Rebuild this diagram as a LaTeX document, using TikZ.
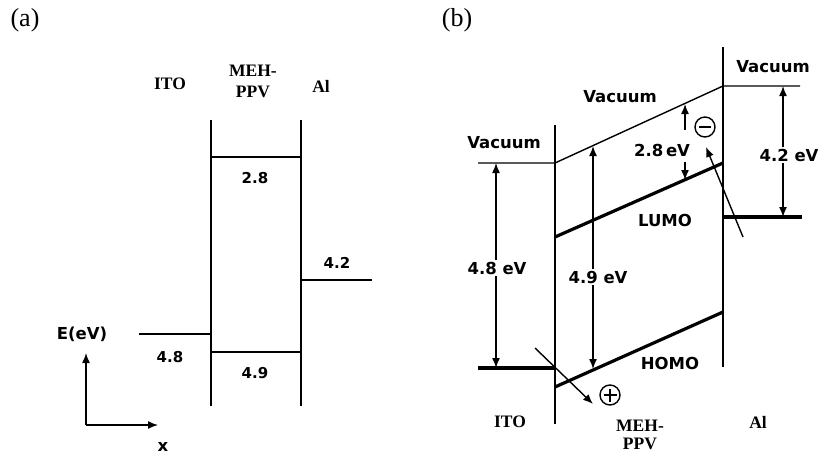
\documentclass[tikz,border=0pt]{standalone}
\usepackage{fontspec}
\setmainfont{Liberation Serif}
\setsansfont{DejaVu Sans}
\usetikzlibrary{arrows.meta, positioning, calc}
\tikzset{
  wall/.style={draw=black, line width=1.5pt},
  lvl/.style={draw=black, line width=1.4pt},
  lvlbold/.style={draw=black, line width=3.2pt},
  dimarr/.style={{Latex[length=10pt,width=8pt]}-{Latex[length=10pt,width=8pt]}, line width=1.4pt},
  onearr/.style={-{Latex[length=10pt,width=8pt]}, line width=1.4pt},
  val/.style={font=\sffamily\bfseries\fontsize{15}{15}\selectfont, inner sep=1pt},
  valb/.style={font=\sffamily\bfseries\fontsize{16.5}{16.5}\selectfont, inner sep=1pt},
  dimlbl/.style={valb, fill=white, inner sep=2pt},
  mat/.style={font=\bfseries\fontsize{17.5}{17.5}\selectfont, inner sep=0pt},
  tag/.style={font=\fontsize{26}{26}\selectfont, inner sep=0pt},
  chg/.style={circle, draw=black, line width=1.4pt, minimum size=20pt, inner sep=0pt},
}
\begin{document}
\begin{tikzpicture}[x=1pt, y=-1pt]
  \useasboundingbox (0,0) rectangle (819,455);
  % (a) flat bands
  \node[tag] (taga) at (25,20) {(a)};
  \node[mat] (itoa) at (170,84) {ITO};
  \node[mat] (meha) at (253,71) {MEH-};
  \node[mat] (ppva) at (253,92) {PPV};
  \node[mat] (ala) at (321,86) {Al};
  \coordinate (aLt) at (211,120); \coordinate (aLb) at (211,406);
  \coordinate (aRt) at (301,120); \coordinate (aRb) at (301,406);
  \draw[wall] (aLt) -- (aLb);
  \draw[wall] (aRt) -- (aRb);
  \draw[lvl] (211,157) -- (301,157);
  \draw[lvl] (211,352) -- (301,352);
  \draw[lvl] (139,334) -- (211,334);
  \draw[lvl] (301,280) -- (372,280);
  \node[val] (lumoa) at (255,178) {2.8};
  \node[val] (homoa) at (255,373) {4.9};
  \node[val] (wfito) at (170,357) {4.8};
  \node[val] (wfal) at (337,263) {4.2};
  \node[valb] (eaxis) at (82,334) {E(eV)};
  \node[valb] (xaxis) at (163,447) {x};
  \coordinate (orig) at (86,425);
  \coordinate (etip) at (86,353);
  \coordinate (xtip) at (158,425);
  \draw[onearr] (orig) -- (etip);
  \draw[onearr] (orig) -- (xtip);

  % (b) under bias
  \node[tag] (tagb) at (457,20) {(b)};
  \coordinate (bLt) at (555,125); \coordinate (bLb) at (555,424);
  \coordinate (bRt) at (723,47); \coordinate (bRb) at (723,367);
  \draw[wall] (bLt) -- (bLb);
  \draw[wall] (bRt) -- (bRb);
  \coordinate (vac1) at (478,163); \coordinate (vac2) at (555,163);
  \coordinate (vac3) at (723,86); \coordinate (vac4) at (800,86);
  \draw[lvl] (vac1) -- (vac2) -- (vac3) -- (vac4);
  \draw[lvlbold] (555,237) -- (723,163);
  \draw[lvlbold] (555,387) -- (723,312);
  \draw[lvlbold] (478,368) -- (555,368);
  \draw[lvlbold] (723,217) -- (802,217);
  \node[valb] (vacito) at (504,143) {Vacuum};
  \node[valb] (vacmeh) at (620,97) {Vacuum};
  \node[valb] (vacal) at (773,67) {Vacuum};
  \node[valb] (lumob) at (665,220) {LUMO};
  \node[valb] (homob) at (670,363) {HOMO};
  % work functions and levels
  \coordinate (d48t) at (496,163); \coordinate (d48b) at (496,368);
  \draw[dimarr] (d48t) -- (d48b);
  \node[dimlbl] (l48) at (497,268) {4.8 eV};
  \coordinate (d49t) at (593,146); \coordinate (d49b) at (593,369);
  \draw[dimarr] (d49t) -- (d49b);
  \node[dimlbl] (l49) at (598,277) {4.9 eV};
  \coordinate (d42t) at (783,86); \coordinate (d42b) at (783,217);
  \draw[dimarr] (d42t) -- (d42b);
  \node[dimlbl] (l42) at (789,155) {4.2 eV};
  \coordinate (d28a) at (685,130); \coordinate (d28t) at (685,104);
  \coordinate (d28b) at (685,162); \coordinate (d28c) at (685,180);
  \draw[onearr] (d28a) -- (d28t);
  \draw[onearr] (d28b) -- (d28c);
  \node[valb] (l28) at (662,150) {2.8\,eV};
  % charges
  \node[chg] (elec) at (705,127) {};
  \draw[line width=2.8pt] ([xshift=-6pt]elec.center) -- ([xshift=6pt]elec.center);
  \node[chg] (hole) at (610,395) {};
  \draw[line width=2.4pt] ([xshift=-6.5pt]hole.center) -- ([xshift=6.5pt]hole.center);
  \draw[line width=2.4pt] ([yshift=-6.5pt]hole.center) -- ([yshift=6.5pt]hole.center);
  \coordinate (etail) at (743,237); \coordinate (ehead) at (706,147);
  \draw[onearr] (etail) -- (ehead);
  \coordinate (htail) at (535,348); \coordinate (hhead) at (593,404);
  \draw[onearr] (htail) -- (hhead);
  % materials
  \node[mat] (itob) at (510,422) {ITO};
  \node[mat] (mehb) at (640,426) {MEH-};
  \node[mat] (ppvb) at (640,444) {PPV};
  \node[mat] (alb) at (758,422) {Al};
\end{tikzpicture}
\end{document}
